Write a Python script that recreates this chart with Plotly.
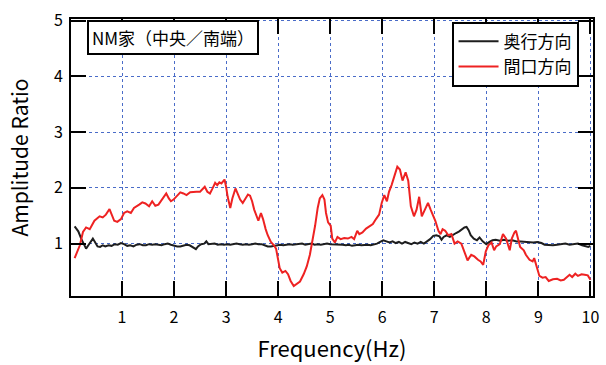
import plotly.graph_objects as go

# Transfer-function amplitude ratio, NM house (centre / south end)
freq_long = [0.09, 0.16, 0.22, 0.28, 0.31, 0.36, 0.40, 0.44, 0.48, 0.53, 0.58, 0.63, 0.68, 0.74, 0.80,
             0.86, 0.92, 0.98, 1.04, 1.10, 1.16, 1.22, 1.28, 1.34, 1.40, 1.46, 1.52, 1.58, 1.64, 1.70,
             1.76, 1.82, 1.88, 1.94, 2.00, 2.06, 2.12, 2.18, 2.24, 2.30, 2.36, 2.42, 2.46, 2.52, 2.58,
             2.62, 2.66, 2.72, 2.78, 2.84, 2.90, 2.96, 3.02, 3.08, 3.14, 3.20, 3.26, 3.32, 3.38, 3.44,
             3.50, 3.56, 3.62, 3.68, 3.74, 3.80, 3.86, 3.92, 3.98, 4.04, 4.10, 4.16, 4.22, 4.28, 4.34,
             4.40, 4.46, 4.52, 4.58, 4.64, 4.70, 4.76, 4.82, 4.88, 4.94, 5.00, 5.06, 5.12, 5.18, 5.24,
             5.30, 5.36, 5.42, 5.48, 5.54, 5.60, 5.66, 5.72, 5.78, 5.84, 5.90, 5.96, 6.02, 6.08, 6.14,
             6.20, 6.26, 6.32, 6.38, 6.44, 6.50, 6.56, 6.62, 6.68, 6.74, 6.80, 6.86, 6.92, 6.98, 7.04,
             7.10, 7.14, 7.18, 7.24, 7.30, 7.36, 7.42, 7.48, 7.54, 7.58, 7.62, 7.66, 7.70, 7.76, 7.82,
             7.87, 7.93, 8.00, 8.06, 8.12, 8.18, 8.26, 8.34, 8.42, 8.50, 8.58, 8.66, 8.74, 8.82, 8.90,
             8.98, 9.06, 9.12, 9.20, 9.28, 9.36, 9.44, 9.52, 9.60, 9.68, 9.76, 9.84, 9.90, 9.96, 10.00]
amp_long = [1.31, 1.22, 1.08, 0.96, 0.91, 0.98, 1.03, 1.09, 1.03, 0.95, 0.94, 0.97, 0.95, 0.97, 0.96,
            0.99, 0.98, 1.01, 0.99, 0.96, 0.97, 0.95, 0.98, 0.99, 0.97, 0.97, 0.99, 0.98, 0.99, 0.98,
            0.97, 0.99, 1.00, 0.98, 0.96, 0.95, 0.95, 0.96, 0.98, 0.97, 0.93, 0.90, 0.95, 0.99, 1.00,
            1.04, 0.99, 0.99, 1.00, 0.98, 0.99, 0.98, 0.99, 0.98, 0.99, 1.00, 0.99, 0.98, 0.99, 0.98,
            0.99, 1.00, 0.99, 0.99, 0.97, 0.95, 0.95, 0.96, 0.97, 0.98, 0.97, 0.98, 0.99, 0.98, 0.99,
            0.99, 1.00, 0.98, 0.99, 1.00, 0.98, 0.99, 0.98, 0.99, 1.00, 0.99, 0.99, 0.98, 0.99, 0.98,
            0.97, 0.98, 0.96, 0.97, 0.98, 0.97, 0.98, 0.98, 0.97, 0.98, 1.00, 1.03, 1.06, 1.04, 1.02,
            1.04, 1.01, 1.03, 1.00, 1.03, 1.01, 0.99, 1.02, 1.00, 1.03, 1.00, 1.04, 1.08, 1.14, 1.15,
            1.13, 1.07, 1.12, 1.15, 1.12, 1.16, 1.19, 1.22, 1.26, 1.29, 1.30, 1.24, 1.15, 1.09, 1.06,
            1.11, 1.04, 0.99, 1.03, 1.06, 1.07, 1.05, 1.07, 1.05, 1.06, 1.04, 1.04, 1.03, 1.03, 1.02,
            1.03, 1.01, 0.98, 0.97, 0.97, 0.98, 0.99, 1.00, 0.98, 0.99, 1.00, 0.97, 0.95, 0.94, 0.96]

freq_front = [0.09, 0.14, 0.19, 0.25, 0.31, 0.38, 0.43, 0.47, 0.52, 0.57, 0.63, 0.69, 0.76, 0.80, 0.85,
              0.91, 0.98, 1.04, 1.10, 1.17, 1.23, 1.33, 1.39, 1.45, 1.52, 1.58, 1.64, 1.70, 1.76, 1.80,
              1.85, 1.90, 1.94, 1.99, 2.05, 2.12, 2.18, 2.24, 2.31, 2.37, 2.43, 2.50, 2.55, 2.59, 2.64,
              2.69, 2.74, 2.79, 2.83, 2.87, 2.91, 2.97, 3.00, 3.03, 3.08, 3.12, 3.18, 3.22, 3.27, 3.32,
              3.37, 3.42, 3.46, 3.50, 3.54, 3.58, 3.62, 3.67, 3.71, 3.76, 3.80, 3.86, 3.92, 3.96, 3.99,
              4.03, 4.08, 4.14, 4.19, 4.24, 4.30, 4.36, 4.42, 4.49, 4.55, 4.61, 4.67, 4.71, 4.76, 4.80,
              4.85, 4.89, 4.92, 4.96, 5.01, 5.04, 5.09, 5.14, 5.20, 5.27, 5.34, 5.41, 5.46, 5.52, 5.56,
              5.62, 5.69, 5.75, 5.82, 5.88, 5.94, 5.99, 6.04, 6.09, 6.13, 6.18, 6.23, 6.29, 6.34, 6.39,
              6.45, 6.50, 6.55, 6.61, 6.66, 6.71, 6.76, 6.82, 6.88, 6.93, 6.97, 7.02, 7.08, 7.12, 7.16,
              7.21, 7.27, 7.33, 7.39, 7.45, 7.52, 7.58, 7.64, 7.71, 7.77, 7.84, 7.89, 7.94, 7.99, 8.04,
              8.10, 8.15, 8.19, 8.26, 8.32, 8.38, 8.45, 8.49, 8.54, 8.57, 8.61, 8.65, 8.72, 8.76, 8.83,
              8.89, 8.92, 8.97, 9.02, 9.08, 9.14, 9.20, 9.28, 9.36, 9.43, 9.49, 9.55, 9.60, 9.65, 9.71,
              9.76, 9.83, 9.89, 9.95, 10.00]
amp_front = [0.74, 0.86, 0.97, 1.21, 1.29, 1.26, 1.34, 1.41, 1.45, 1.49, 1.47, 1.52, 1.62, 1.52, 1.41,
             1.39, 1.44, 1.55, 1.58, 1.55, 1.64, 1.70, 1.74, 1.72, 1.67, 1.76, 1.68, 1.70, 1.78, 1.81,
             1.90, 1.81, 1.76, 1.79, 1.86, 1.92, 1.90, 1.87, 1.92, 1.93, 1.93, 1.93, 1.99, 2.02, 1.93,
             1.90, 1.99, 2.09, 2.05, 2.10, 2.08, 2.15, 2.02, 1.84, 1.64, 1.81, 1.99, 1.90, 1.79, 1.73,
             1.81, 1.88, 1.86, 1.76, 1.61, 1.49, 1.41, 1.55, 1.44, 1.26, 1.15, 1.03, 0.97, 0.91, 0.74,
             0.56, 0.48, 0.51, 0.45, 0.33, 0.24, 0.28, 0.32, 0.45, 0.59, 0.80, 1.09, 1.32, 1.64, 1.81,
             1.87, 1.79, 1.55, 1.38, 1.32, 1.09, 1.02, 1.12, 1.08, 1.10, 1.09, 1.12, 1.08, 1.23, 1.17,
             1.20, 1.27, 1.30, 1.35, 1.44, 1.52, 1.73, 1.87, 1.76, 1.93, 2.05, 2.19, 2.38, 2.33, 2.13,
             2.28, 2.13, 1.67, 1.49, 1.61, 1.84, 1.49, 1.61, 1.73, 1.61, 1.52, 1.41, 1.23, 1.17, 1.26,
             1.23, 1.15, 1.17, 1.00, 1.04, 1.00, 0.86, 0.70, 0.80, 0.77, 0.71, 0.68, 0.62, 0.86, 0.97,
             1.02, 0.88, 0.95, 0.99, 1.17, 1.09, 0.88, 1.09, 1.20, 1.23, 1.08, 0.94, 0.88, 0.80, 0.71,
             0.68, 0.74, 0.56, 0.42, 0.39, 0.40, 0.33, 0.36, 0.37, 0.34, 0.35, 0.40, 0.44, 0.40, 0.46,
             0.42, 0.45, 0.44, 0.43, 0.35]

x_ticks = [1, 2, 3, 4, 5, 6, 7, 8, 9, 10]
y_ticks = [1, 2, 3, 4, 5]
series_names = ["奥行方向", "間口方向"]
panel_label = "NM家（中央／南端）"

FONT = "Noto Sans CJK JP"
GRID = "#4a6cc8"

fig = go.Figure()
fig.add_trace(go.Scatter(x=freq_long, y=amp_long, mode="lines", name=series_names[0],
                         line=dict(color="#1e1e1e", width=2)))
fig.add_trace(go.Scatter(x=freq_front, y=amp_front, mode="lines", name=series_names[1],
                         line=dict(color="#ee2222", width=2)))

axis_common = dict(
    showline=True, linecolor="black", linewidth=2, mirror="ticks",
    ticks="inside", ticklen=15, tickwidth=2, tickcolor="black",
    showgrid=True, gridcolor=GRID, gridwidth=1, griddash="3px,3px",
    zeroline=False, tickfont=dict(family=FONT, size=16, color="black"),
)

fig.update_xaxes(range=[0.02, 10.05], tickvals=x_ticks, ticktext=[str(t) for t in x_ticks],
                 ticklabelstandoff=6,
                 title=dict(text="Frequency(Hz)", font=dict(family=FONT, size=22, color="black"),
                            standoff=14),
                 **axis_common)
fig.update_yaxes(range=[0.06, 5.03], tickvals=y_ticks, ticktext=[str(t) for t in y_ticks],
                 ticklabelstandoff=3,
                 title=dict(text="Amplitude Ratio", font=dict(family=FONT, size=21, color="black"),
                            standoff=20),
                 **axis_common)

fig.add_annotation(x=0.03, y=0.995, xref="paper", yref="paper", xanchor="left", yanchor="top",
                   text=panel_label, showarrow=False,
                   font=dict(family=FONT, size=17, color="black"),
                   bordercolor="black", borderwidth=2, borderpad=3, bgcolor="white")

fig.update_layout(
    width=606, height=365,
    margin=dict(l=71, r=7, t=14, b=66),
    plot_bgcolor="white", paper_bgcolor="white",
    showlegend=True,
    legend=dict(x=0.729, y=0.99, xanchor="left", yanchor="top",
                bordercolor="black", borderwidth=2, bgcolor="white",
                font=dict(family=FONT, size=17, color="black"),
                itemwidth=40, tracegroupgap=0),
)

fig.write_html("out.html")
